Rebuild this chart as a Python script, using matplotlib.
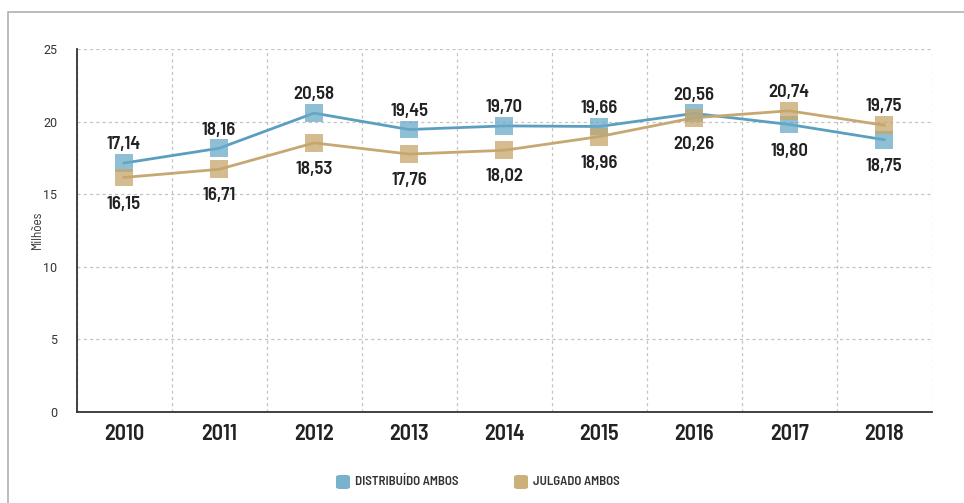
import matplotlib.pyplot as plt
from matplotlib.patches import Rectangle, FancyBboxPatch

years = ['2010', '2011', '2012', '2013', '2014', '2015', '2016', '2017', '2018']
distribuido = [17.14, 18.16, 20.58, 19.45, 19.70, 19.66, 20.56, 19.80, 18.75]
julgado = [16.15, 16.71, 18.53, 17.76, 18.02, 18.96, 20.26, 20.74, 19.75]
# label above (True) or below (False) each point
dist_above = [True, True, True, True, True, True, True, False, False]
julg_above = [False, False, False, False, False, False, False, True, True]

cond = ['Barlow Semi Condensed', 'DejaVu Sans']

blue_line = '#5b9fc0'
blue_mark = '#6aaac8'
tan_line = '#c6a872'
tan_mark = '#c7a66b'

fig = plt.figure(figsize=(9.64, 5.03), dpi=100)
fig.patches.append(Rectangle((8 / 964, -0.1), 1.2, 1 - 12 / 503 + 0.1,
                             transform=fig.transFigure, fill=False,
                             edgecolor='#b0b0b0', linewidth=1.2))

ax = fig.add_axes([0.0794, 0.181, 0.887, 0.7217])
x = list(range(len(years)))

ax.plot(x, distribuido, color=blue_line, lw=2, zorder=3)
ax.plot(x, julgado, color=tan_line, lw=2, zorder=3)
ax.scatter(x, distribuido, marker='s', s=165, color=blue_mark, alpha=0.75,
           edgecolors='none', zorder=4)
ax.scatter(x, julgado, marker='s', s=165, color=tan_mark, alpha=0.75,
           edgecolors='none', zorder=4)

def label(vals, above):
    for xi, v, up in zip(x, vals, above):
        ax.annotate(f'{v:.2f}'.replace('.', ','), (xi, v),
                    xytext=(0, 7 if up else -13), textcoords='offset points',
                    ha='center', va='bottom' if up else 'top',
                    fontsize=13.5, fontweight='semibold', family=cond, color='#222222')

label(distribuido, dist_above)
label(julgado, julg_above)

ax.set_xlim(-0.5, len(years) - 0.5)
ax.set_ylim(0, 25)
ax.set_yticks([0, 5, 10, 15, 20, 25])
ax.set_xticks(x)
ax.set_xticklabels(years, fontsize=16, fontweight='semibold', family=cond, color='#222222')
ax.set_xticks([i + 0.5 for i in range(-1, len(years))], minor=True)
ax.tick_params(axis='x', which='both', length=0, pad=9)
ax.tick_params(axis='y', length=0, pad=14, labelsize=9, labelcolor='#333333')
for t in ax.get_yticklabels():
    t.set_family(['Roboto', 'DejaVu Sans'])
ax.grid(True, axis='y', linestyle=(0, (2.5, 2.5)), color='#c4c4c4', lw=0.9)
ax.grid(True, axis='x', which='minor', linestyle=(0, (2.5, 2.5)), color='#c4c4c4', lw=0.9)
for s in ['top', 'right']:
    ax.spines[s].set_visible(False)
for s in ['left', 'bottom']:
    ax.spines[s].set_color('#333333')
    ax.spines[s].set_linewidth(1.3)
fig.text(37 / 964, 1 - 230 / 503, 'Milhões', rotation=90, fontsize=9.5, family=cond,
         color='#333333', ha='center', va='center')

# legend
for lx, col, txt in [(336, blue_mark, 'DISTRIBUÍDO AMBOS'), (514, tan_mark, 'JULGADO AMBOS')]:
    fig.patches.append(FancyBboxPatch((lx / 964, 1 - 489 / 503), 14 / 964, 14 / 503,
                                      boxstyle='round,pad=0,rounding_size=0.004',
                                      transform=fig.transFigure, facecolor=col,
                                      edgecolor='none', alpha=0.9))
    fig.text((lx + 19) / 964, 1 - 482 / 503, txt, fontsize=9.3, fontweight='semibold',
             family=cond, color='#333333', va='center', ha='left')

fig.savefig('out.png', dpi=100)
